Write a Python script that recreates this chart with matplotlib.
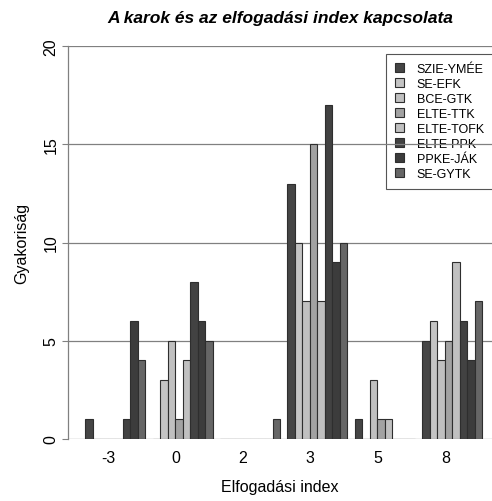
import numpy as np
import matplotlib.pyplot as plt

plt.rcParams['font.family'] = ['Liberation Sans', 'DejaVu Sans']

#%% data
categories = ['-3', '0', '2', '3', '5', '8']
series_names = ['SZIE-YMÉE', 'SE-EFK', 'BCE-GTK', 'ELTE-TTK',
                'ELTE-TOFK', 'ELTE-PPK', 'PPKE-JÁK', 'SE-GYTK']
szie_ymee = [1, 0, 0, 13, 1, 5]
se_efk    = [0, 3, 0, 10, 0, 6]
bce_gtk   = [0, 5, 0, 7, 3, 4]
elte_ttk  = [0, 1, 0, 15, 1, 5]
elte_tofk = [0, 4, 0, 7, 1, 9]
elte_ppk  = [1, 8, 0, 17, 0, 6]
ppke_jak  = [6, 6, 0, 9, 0, 4]
se_gytk   = [4, 5, 1, 10, 0, 7]
values = [szie_ymee, se_efk, bce_gtk, elte_ttk, elte_tofk, elte_ppk, ppke_jak, se_gytk]
colors = ['#454545', '#c4c4c4', '#c0c0c0', '#a2a2a2',
          '#c0c0c0', '#424242', '#3c3c3c', '#666666']

#%% plot
fig = plt.figure(figsize=(4.92, 5.02), dpi=100)
ax = fig.add_axes([68/492, 1-440/502, 1-68/492, (440-47)/502])

n = len(series_names)
stride = n + 1
groups = np.arange(len(categories))
for i in range(n):
    ax.bar(groups*stride + 1 + i, values[i], width=1.0, align='edge',
           color=colors[i], edgecolor='#2e2e2e', linewidth=0.8,
           label=series_names[i], zorder=2)

ax.set_xlim(-1.27, 55.27)
ax.set_ylim(0, 20)
ax.set_yticks([0, 5, 10, 15, 20])
ax.set_xticks(groups*stride + 4.05)
ax.set_xticklabels(categories)
ax.tick_params(axis='x', length=0, labelsize=11.5, pad=8)
ax.tick_params(axis='y', length=4, width=0.8, color='#808080',
               labelsize=11.5, pad=3)
for t in ax.get_yticklabels():
    t.set_rotation(90)
    t.set_va('center')

for s in ['top', 'right', 'bottom']:
    ax.spines[s].set_visible(False)
ax.spines['left'].set_color('#808080')
ax.spines['left'].set_linewidth(0.9)

ax.set_axisbelow(True)
ax.grid(axis='y', color='#808080', linewidth=0.9)

ax.set_xlabel('Elfogadási index', fontsize=11.5, labelpad=10)
ax.set_ylabel('Gyakoriság', fontsize=11.5, labelpad=10)
ax.set_title('A karok és az elfogadási index kapcsolata', fontsize=12.5,
             fontweight='bold', fontstyle='italic', pad=17)

leg = ax.legend(loc='upper left', bbox_to_anchor=(386/492, 1-55/502),
                bbox_transform=fig.transFigure, fontsize=9,
                fancybox=False, framealpha=1, facecolor='none',
                edgecolor='#555555', handlelength=0.75, handleheight=0.75,
                handletextpad=1.0, labelspacing=0.24, borderpad=0.7,
                borderaxespad=0)
leg.get_frame().set_linewidth(0.8)
leg.set_zorder(0.2)

plt.savefig('out.png', dpi=100)
